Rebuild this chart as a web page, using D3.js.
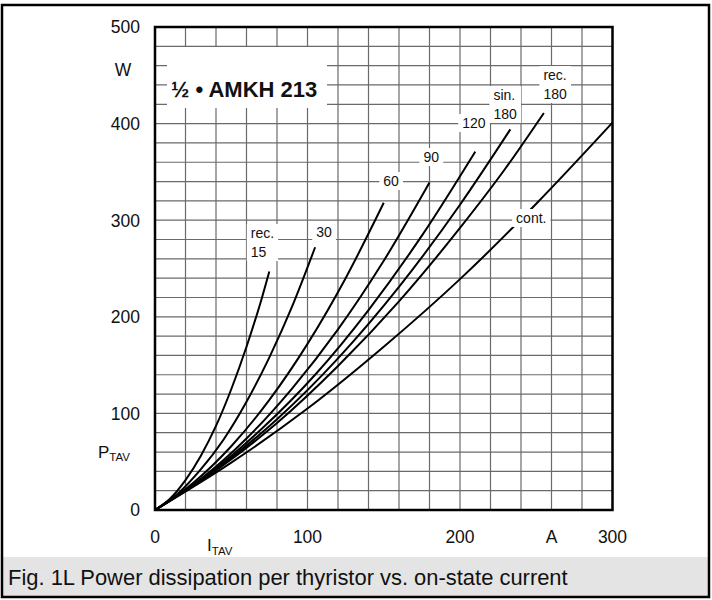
<!DOCTYPE html>
<html>
<head>
<meta charset="utf-8">
<script src="https://cdn.jsdelivr.net/npm/d3@7"></script>
<style>
  html, body { margin: 0; padding: 0; background: #fff; }
  svg { display: block; }
  text { font-family: "Liberation Sans", Arial, Helvetica, sans-serif; fill: #111; }
</style>
</head>
<body>
<svg id="chart" width="712" height="600"></svg>
<script>
// ---------- data ----------
const xTicks = [0, 100, 200, 300];
const yTicks = [0, 100, 200, 300, 400, 500];
const xUnit = "A";
const yUnit = "W";
const title = "½ • AMKH 213";
const caption = "Fig. 1L Power dissipation per thyristor vs. on-state current";

// [I_TAV (A), P_TAV (W)]
const rec15  = [[0,0],[10,12],[20,31],[30,56],[40,87],[50,125],[60,169],[70,219],[75,247]];
const rec30  = [[0,0],[15,17],[30,42],[45,73],[60,112],[75,158],[90,211],[105,272]];
const rec60  = [[0,0],[25,28],[50,66],[75,114],[100,172],[125,240],[150,318]];
const rec90  = [[0,0],[30,32],[60,74],[90,126],[120,187],[150,258],[180,339]];
const rec120 = [[0,0],[35,37],[70,84],[105,140],[140,207],[175,284],[210,371]];
const sin180 = [[0,0],[40,42],[80,94],[120,157],[160,231],[200,316],[233,394]];
const rec180 = [[0,0],[40,41],[80,90],[120,149],[160,216],[200,292],[230,354],[255,411]];
const cont   = [[0,0],[50,49],[100,105],[150,169],[200,239],[250,317],[300,401]];

const seriesList = [rec15, rec30, rec60, rec90, rec120, sin180, rec180, cont];
const seriesLabels = [["rec.","15"],["30"],["60"],["90"],["120"],["sin.","180"],["rec.","180"],["cont."]];

// ---------- layout ----------
const svg = d3.select("#chart");
const x = d3.scaleLinear().domain([0, 300]).range([155, 612.5]);
const y = d3.scaleLinear().domain([0, 500]).range([510, 27]);

// label anchors in data units (left edge of text, centre of first line)
const labelAnchors = [[62.8,286.7],[105.7,288],[149.7,340.6],[176,365.4],[201.5,400.6],[221.9,429.6],[254.7,450.3],[236.8,302.3]];
const lineGap = 19;

// outer frame + caption band
svg.append("rect").attr("x", 2).attr("y", 557).attr("width", 707).attr("height", 40).attr("fill", "#e4e4e4");

// grid
const grid = svg.append("g").attr("stroke", "#6a6a6a").attr("stroke-width", 1.2);
grid.selectAll("line.v").data(d3.range(0, 301, 20)).join("line")
  .attr("x1", d => x(d)).attr("x2", d => x(d)).attr("y1", y(0)).attr("y2", y(500));
grid.selectAll("line.h").data(d3.range(0, 501, 20)).join("line")
  .attr("x1", x(0)).attr("x2", x(300)).attr("y1", d => y(d)).attr("y2", d => y(d));

// title box
svg.append("rect").attr("x", 167).attr("y", 47).attr("width", 160).attr("height", 61).attr("fill", "#fff");
svg.append("text").attr("x", 171).attr("y", 97).attr("font-size", 22).attr("font-weight", "bold").text(title);

// curves
const line = d3.line().x(d => x(d[0])).y(d => y(d[1])).curve(d3.curveMonotoneX);
svg.append("g").selectAll("path").data(seriesList).join("path")
  .attr("d", line).attr("fill", "none").attr("stroke", "#000").attr("stroke-width", 2);

// curve labels with white boxes
const lg = svg.append("g");
seriesLabels.forEach((lines, i) => {
  const g = lg.append("g");
  const ax = x(labelAnchors[i][0]), ay = y(labelAnchors[i][1]);
  const box = g.append("rect").attr("fill", "#fff");
  const texts = lines.map((t, j) => g.append("text").attr("x", ax).attr("y", ay + j * lineGap)
      .attr("dy", "0.36em").attr("font-size", 14).text(t));
  let x0 = Infinity, y0 = Infinity, x1 = -Infinity, y1 = -Infinity;
  texts.forEach(t => { const b = t.node().getBBox(); x0 = Math.min(x0, b.x); y0 = Math.min(y0, b.y); x1 = Math.max(x1, b.x + b.width); y1 = Math.max(y1, b.y + b.height); });
  box.attr("x", x0 - 4).attr("y", y0 - 1).attr("width", x1 - x0 + 8).attr("height", y1 - y0 + 2);
});

// plot border
svg.append("rect").attr("x", x(0)).attr("y", y(500)).attr("width", x(300) - x(0)).attr("height", y(0) - y(500))
  .attr("fill", "none").attr("stroke", "#000").attr("stroke-width", 2.5);

// y tick labels
svg.append("g").selectAll("text").data(yTicks).join("text")
  .attr("x", 140).attr("y", d => y(d)).attr("dy", "0.36em").attr("text-anchor", "end")
  .attr("font-size", 17.5).text(d => d);
// x tick labels
svg.append("g").selectAll("text").data(xTicks).join("text")
  .attr("x", d => x(d)).attr("y", 537).attr("dy", "0.36em").attr("text-anchor", "middle")
  .attr("font-size", 17.5).text(d => d);
// units
svg.append("text").attr("x", x(260)).attr("y", 537).attr("dy", "0.36em").attr("text-anchor", "middle").attr("font-size", 17.5).text(xUnit);
svg.append("text").attr("x", 123).attr("y", 70).attr("dy", "0.36em").attr("text-anchor", "middle").attr("font-size", 17.5).text(yUnit);

// axis names
const pt = svg.append("text").attr("x", 98).attr("y", 458).attr("font-size", 17);
pt.append("tspan").text("P");
pt.append("tspan").attr("font-size", 11.5).attr("dy", 3).text("TAV");
const it = svg.append("text").attr("x", 207).attr("y", 551).attr("font-size", 17);
it.append("tspan").text("I");
it.append("tspan").attr("font-size", 11.5).attr("dy", 4).text("TAV");

// caption
const cap = svg.append("text").attr("x", 8).attr("y", 577).attr("dy", "0.36em").attr("font-size", 18).text(caption);
const w = cap.node().getComputedTextLength();
cap.attr("font-size", 18 * 560 / w);

// frame
svg.append("rect").attr("x", 2).attr("y", 5).attr("width", 707).attr("height", 592)
  .attr("fill", "none").attr("stroke", "#000").attr("stroke-width", 2.5);
</script>
</body>
</html>
